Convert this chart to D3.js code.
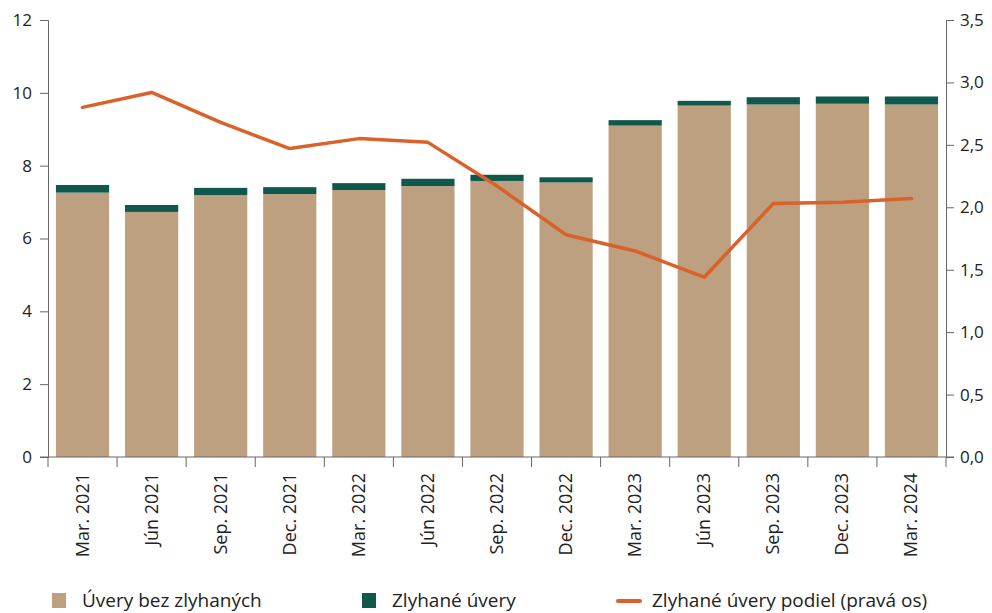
<!DOCTYPE html>
<html>
<head>
<meta charset="utf-8">
<script src="https://cdn.jsdelivr.net/npm/d3@7"></script>
<style>
  body { margin: 0; background: #fff; }
  svg text { font-family: "Open Sans", "DejaVu Sans", sans-serif; fill: #222; }
</style>
</head>
<body>
<div id="chart"></div>
<script>
var categories = ["Mar. 2021","Jún 2021","Sep. 2021","Dec. 2021","Mar. 2022","Jún 2022","Sep. 2022",
                  "Dec. 2022","Mar. 2023","Jún 2023","Sep. 2023","Dec. 2023","Mar. 2024"];
var performing = [7.26, 6.73, 7.19, 7.22, 7.33, 7.44, 7.58, 7.54, 9.10, 9.65, 9.68, 9.70, 9.68];
var defaulted  = [0.21, 0.19, 0.20, 0.19, 0.19, 0.20, 0.17, 0.14, 0.15, 0.13, 0.20, 0.20, 0.22];
var shareRight = [2.80, 2.92, 2.68, 2.47, 2.55, 2.52, 2.17, 1.78, 1.65, 1.44, 2.03, 2.04, 2.07];
var leftTicks = [0, 2, 4, 6, 8, 10, 12];
var rightTicks = [0, 0.5, 1, 1.5, 2, 2.5, 3, 3.5];

var W = 992, H = 613;
var margin = {left: 48, right: 46, top: 20, bottom: 156};
var cBeige = "#bda080", cGreen = "#10584c", cOrange = "#d9622b", cAxis = "#666";

var svg = d3.select("#chart").append("svg").attr("width", W).attr("height", H);

var x = d3.scaleBand().domain(categories)
  .range([margin.left, W - margin.right]).paddingInner(0.23).paddingOuter(0.115);
var y = d3.scaleLinear().domain([0, 12]).range([H - margin.bottom, margin.top]);
var y2 = d3.scaleLinear().domain([0, 3.5]).range([H - margin.bottom, margin.top]);

// bars
var g = svg.append("g");
g.selectAll(".perf").data(categories).enter().append("rect")
  .attr("x", d => x(d)).attr("width", x.bandwidth())
  .attr("y", (d, i) => y(performing[i]))
  .attr("height", (d, i) => y(0) - y(performing[i]))
  .attr("fill", cBeige);
g.selectAll(".def").data(categories).enter().append("rect")
  .attr("x", d => x(d)).attr("width", x.bandwidth())
  .attr("y", (d, i) => y(performing[i] + defaulted[i]))
  .attr("height", (d, i) => y(performing[i]) - y(performing[i] + defaulted[i]))
  .attr("fill", cGreen);

// line
var line = d3.line().x((d, i) => x(categories[i]) + x.bandwidth() / 2).y(d => y2(d));
svg.append("path").datum(shareRight).attr("d", line)
  .attr("fill", "none").attr("stroke", cOrange).attr("stroke-width", 3.5)
  .attr("stroke-linejoin", "round").attr("stroke-linecap", "round");

// left axis
var yAxis = svg.append("g").attr("transform", "translate(" + margin.left + ",0)")
  .call(d3.axisLeft(y).tickValues(leftTicks).tickSize(8).tickPadding(8));
yAxis.selectAll("text").style("font-size", "17px");

// right axis
var yAxis2 = svg.append("g").attr("transform", "translate(" + (W - margin.right) + ",0)")
  .call(d3.axisRight(y2).tickValues(rightTicks).tickSize(8).tickPadding(6)
    .tickFormat(d => d3.format(".1f")(d).replace(".", ",")));
yAxis2.selectAll("text").style("font-size", "17px");

// bottom axis: ticks at band boundaries
var xg = svg.append("g").attr("transform", "translate(0," + y(0) + ")");
xg.append("line").attr("x1", margin.left - 8).attr("x2", W - margin.right + 8)
  .attr("stroke", cAxis);
var bounds = categories.map(d => x(d) - x.step() * x.paddingInner() / 2);
bounds.push(W - margin.right);
xg.selectAll(".tk").data(bounds).enter().append("line")
  .attr("x1", d => d).attr("x2", d => d).attr("y1", 0).attr("y2", 10).attr("stroke", cAxis);
xg.selectAll(".lbl").data(categories).enter().append("text")
  .attr("transform", d => "translate(" + (x(d) + x.bandwidth() / 2 + 6) + ",16) rotate(-90)")
  .attr("text-anchor", "end").style("font-size", "18px").text(d => d);

svg.selectAll(".domain").attr("stroke", cAxis);
svg.selectAll(".tick line").attr("stroke", cAxis);

// legend
var lg = svg.append("g").attr("transform", "translate(0,600)");
lg.append("rect").attr("x", 52).attr("y", -7).attr("width", 14).attr("height", 15).attr("fill", cBeige);
lg.append("text").attr("x", 82).attr("y", 0).attr("dy", "0.35em").style("font-size", "19px").text("Úvery bez zlyhaných");
lg.append("rect").attr("x", 362).attr("y", -7).attr("width", 14).attr("height", 15).attr("fill", cGreen);
lg.append("text").attr("x", 392).attr("y", 0).attr("dy", "0.35em").style("font-size", "19px").text("Zlyhané úvery");
lg.append("line").attr("x1", 618).attr("x2", 640).attr("y1", 1).attr("y2", 1)
  .attr("stroke", cOrange).attr("stroke-width", 4).attr("stroke-linecap", "round");
lg.append("text").attr("x", 652).attr("y", 0).attr("dy", "0.35em").style("font-size", "19px").text("Zlyhané úvery podiel (pravá os)");
</script>
</body>
</html>
